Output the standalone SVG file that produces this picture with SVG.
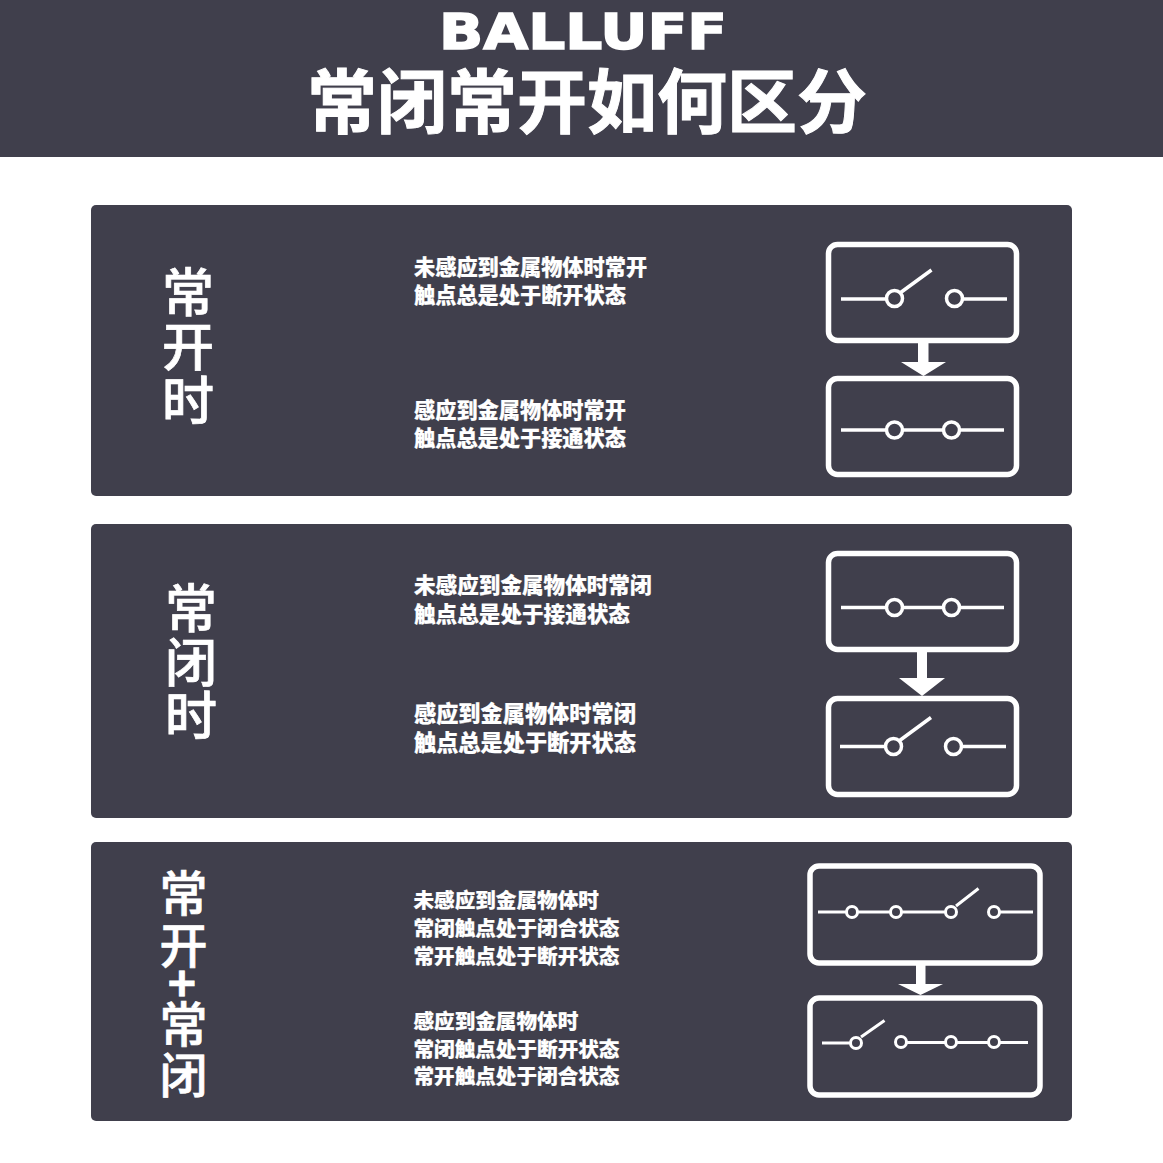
<svg xmlns="http://www.w3.org/2000/svg" width="1163" height="1163" viewBox="0 0 1163 1163">
<style>
.bg{fill:#403f4c}
.t{font-family:"Noto Sans CJK SC","Noto Sans",sans-serif;fill:#fff;stroke:#fff;stroke-width:.2;font-weight:900}
.v{font-family:"Noto Sans CJK SC","Noto Sans",sans-serif;fill:#fff;stroke:#fff;stroke-width:.7;font-weight:500;text-anchor:middle}
.box{fill:none;stroke:#fff;stroke-width:5.5}
.w{fill:none;stroke:#fff;stroke-width:3.5}
.c{fill:#403f4c;stroke:#fff;stroke-width:3.5}
.n{stroke-width:3}
.a{fill:#fff}
</style>
<rect width="1163" height="1163" fill="#fff"/>
<g id="header">
<rect class="bg" width="1163" height="157"/>
<text x="439" y="49" font-family="'DejaVu Sans',sans-serif" font-weight="700" font-size="49" textLength="288" lengthAdjust="spacingAndGlyphs" fill="#fff" stroke="#fff" stroke-width="1.500">BALLUFF</text>
<text x="307" y="128" font-family="'Noto Sans CJK SC',sans-serif" font-weight="700" font-size="70" fill="#fff" stroke="#fff" stroke-width="1">常闭常开如何区分</text>
</g>
<g id="panel1">
<rect class="bg" x="91" y="205" width="981" height="291" rx="5"/>
<text class="v" font-size="52"><tspan x="188" y="312">常</tspan><tspan x="188" y="366">开</tspan><tspan x="188" y="420">时</tspan></text>
<g class="t" font-size="21.2"><text x="414" y="275"><tspan>未感应到金属物体时常开</tspan><tspan x="414" y="303">触点总是处于断开状态</tspan></text><text x="414" y="418"><tspan>感应到金属物体时常开</tspan><tspan x="414" y="446">触点总是处于接通状态</tspan></text></g>
<g id="p1-before"><rect class="box" x="828.500" y="244.500" width="188" height="96" rx="9"/><path class="w" d="M841 299H886M963 299H1007M900 293L931.500 270"/><circle class="c" cx="894.500" cy="298.500" r="8"/><circle class="c" cx="954.500" cy="298.500" r="8"/></g>
<g id="p1-after"><rect class="box" x="828.500" y="378.500" width="188" height="96" rx="9"/><path class="w" d="M841 430H1004"/><circle class="c" cx="894.500" cy="430" r="8"/><circle class="c" cx="951.500" cy="430" r="8"/></g>
</g>
<g id="panel2">
<rect class="bg" x="91" y="524" width="981" height="294" rx="5"/>
<text class="v" font-size="52"><tspan x="191" y="628">常</tspan><tspan x="191" y="682">闭</tspan><tspan x="191" y="735">时</tspan></text>
<g class="t" font-size="21.6"><text x="414" y="593"><tspan>未感应到金属物体时常闭</tspan><tspan x="414" y="622">触点总是处于接通状态</tspan></text></g>
<g class="t" font-size="22.2"><text x="414" y="722"><tspan>感应到金属物体时常闭</tspan><tspan x="414" y="751">触点总是处于断开状态</tspan></text></g>
<g id="p2-before"><rect class="box" x="828.500" y="553.500" width="188" height="96" rx="9"/><path class="w" d="M841 607.500H1004"/><circle class="c" cx="894.500" cy="607.500" r="8"/><circle class="c" cx="951.500" cy="607.500" r="8"/></g>
<g id="p2-after"><rect class="box" x="828.500" y="698.500" width="188" height="96" rx="9"/><path class="w" d="M840 746.500H885M962 746.500H1006M899 741L931 717.500"/><circle class="c" cx="893.500" cy="746.500" r="8"/><circle class="c" cx="953.500" cy="746.500" r="8"/></g>
</g>
<g id="panel3">
<rect class="bg" x="91" y="842" width="981" height="279" rx="5"/>
<text class="v" font-size="48"><tspan x="183.500" y="911">常</tspan><tspan x="183.500" y="963">开</tspan><tspan x="182" y="1001" font-weight="700">+</tspan><tspan x="183.500" y="1042">常</tspan><tspan x="183.500" y="1093">闭</tspan></text>
<g class="t" font-size="20.6"><text x="413.500" y="908"><tspan>未感应到金属物体时</tspan><tspan x="413.500" y="936">常闭触点处于闭合状态</tspan><tspan x="413.500" y="964">常开触点处于断开状态</tspan></text><text x="413.500" y="1029"><tspan>感应到金属物体时</tspan><tspan x="413.500" y="1057">常闭触点处于断开状态</tspan><tspan x="413.500" y="1084">常开触点处于闭合状态</tspan></text></g>
<g id="p3-before"><rect class="box" x="810" y="866" width="230" height="97" rx="9"/><path class="w n" d="M818 912H957M1000 912H1033M956 906L978.500 888.500"/><circle class="c n" cx="852" cy="912" r="5.500"/><circle class="c n" cx="896" cy="912" r="5.500"/><circle class="c n" cx="951" cy="912" r="5.500"/><circle class="c n" cx="994" cy="912" r="5.500"/></g>
<g id="p3-after"><rect class="box" x="810" y="998" width="230" height="97" rx="9"/><path class="w n" d="M822 1043H850M901 1042.500H1028M861 1037L884.500 1020.500"/><circle class="c n" cx="856" cy="1043" r="5.500"/><circle class="c n" cx="901" cy="1042" r="5.500"/><circle class="c n" cx="951" cy="1042" r="5.500"/><circle class="c n" cx="994" cy="1042" r="5.500"/></g>
</g>
<g id="connectors">
<path class="a" d="M918 341H928.500V362H946L923.500 376L901 362H918Z"/>
<path class="a" d="M917 650H927V678H945L922 696L899 678H917Z"/>
<path class="a" d="M916 964H925.500V984H943L920.500 995L898 984H916Z"/>
</g>
</svg>
